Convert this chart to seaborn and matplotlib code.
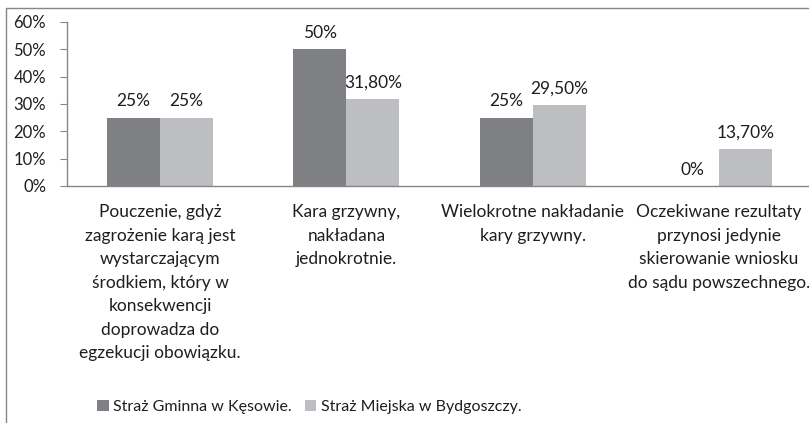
import numpy as np
import pandas as pd
import matplotlib
matplotlib.use('Agg')
import matplotlib.pyplot as plt
import seaborn as sns
from matplotlib.lines import Line2D
from matplotlib.patches import Patch

# dane
categories = [
    'Pouczenie, gdyż\nzagrożenie karą jest\nwystarczającym\nśrodkiem, który w\nkonsekwencji\ndoprowadza do\negzekucji obowiązku.',
    'Kara grzywny,\nnakładana\njednokrotnie.',
    'Wielokrotne nakładanie\nkary grzywny.',
    'Oczekiwane rezultaty\nprzynosi jedynie\nskierowanie wniosku\ndo sądu powszechnego.',
]
series_names = ['Straż Gminna w Kęsowie.', 'Straż Miejska w Bydgoszczy.']
kesowo = [0.25, 0.50, 0.25, 0.0]
bydgoszcz = [0.25, 0.318, 0.295, 0.137]
kesowo_labels = ['25%', '50%', '25%', '0%']
bydgoszcz_labels = ['25%', '31,80%', '29,50%', '13,70%']
y_ticks = [0, 0.1, 0.2, 0.3, 0.4, 0.5, 0.6]
y_tick_labels = ['0%', '10%', '20%', '30%', '40%', '50%', '60%']

colors = ['#7f8084', '#bdbec2']
axis_gray = '#868686'
txt = '#1e1e1e'

sns.set_style('white')
plt.rcParams['font.family'] = ['Lato', 'DejaVu Sans']

df = pd.DataFrame({
    'kategoria': categories * 2,
    'seria': [series_names[0]] * 4 + [series_names[1]] * 4,
    'wartosc': kesowo + bydgoszcz,
})

fig = plt.figure(figsize=(8.09, 4.23), dpi=100)
ax = fig.add_axes([67 / 809, 1 - 186 / 423, (812 - 67) / 809, (186 - 22) / 423])

sns.barplot(data=df, x='kategoria', y='wartosc', hue='seria', palette=colors,
            width=0.57, ax=ax, legend=False, saturation=1, linewidth=0)

for cont, labs in zip(ax.containers, [kesowo_labels, bydgoszcz_labels]):
    ax.bar_label(cont, labels=labs, padding=6, fontsize=12.5, color=txt)

ax.set_xlim(-0.5, 3.5)
ax.set_ylim(0, 0.6)
ax.set_yticks(y_ticks)
ax.set_yticklabels(y_tick_labels, fontsize=12, color=txt)
ax.set_xticks(range(len(categories)))
ax.set_xticklabels(categories, fontsize=12.5, color=txt, linespacing=1.58, va='top')
ax.set_xticks(np.arange(-0.5, 4, 1), minor=True)
ax.tick_params(axis='x', which='major', length=0, pad=13)
ax.tick_params(axis='x', which='minor', length=5, color=axis_gray, direction='out')
ax.tick_params(axis='y', length=5, color=axis_gray, direction='out', pad=10, left=True)
ax.set_xlabel('')
ax.set_ylabel('')
for s in ['top', 'right']:
    ax.spines[s].set_visible(False)
for s in ['left', 'bottom']:
    ax.spines[s].set_color(axis_gray)
    ax.spines[s].set_linewidth(1)

# legenda
handles = [Patch(facecolor=c, edgecolor='none') for c in colors]
fig.legend(handles, series_names, loc='center left', bbox_to_anchor=(83 / 809, 1 - 407 / 423),
           ncol=2, frameon=False, fontsize=11.5, handlelength=0.7, handleheight=0.7,
           handletextpad=0.3, columnspacing=0.8, labelcolor=txt)

# ramka wykresu
fig.add_artist(Line2D([5.5 / 809, 5.5 / 809], [0, 1 - 8 / 423], color=axis_gray, lw=1))
fig.add_artist(Line2D([5.5 / 809, 1], [1 - 8 / 423, 1 - 8 / 423], color=axis_gray, lw=1))

fig.savefig('out.png', dpi=100)
